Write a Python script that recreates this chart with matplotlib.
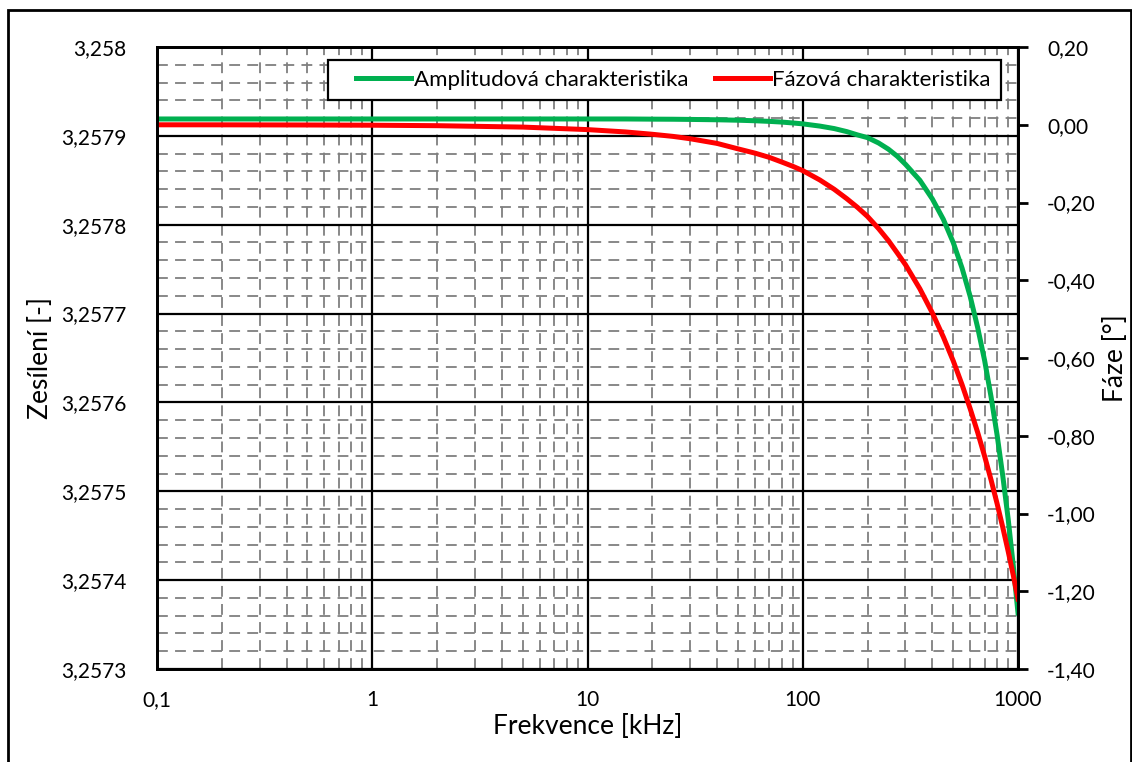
import numpy as np
import matplotlib
matplotlib.use('Agg')
from matplotlib import pyplot as plt
from matplotlib.ticker import FixedLocator, MultipleLocator, LogLocator, FuncFormatter, NullFormatter
from matplotlib.patches import Rectangle
from matplotlib.lines import Line2D
from matplotlib.legend_handler import HandlerLine2D

plt.rcParams['font.family'] = ['Lato', 'DejaVu Sans']

# frekvence [kHz]
freq = [0.1, 0.2, 0.5, 1, 2, 5, 10, 15, 20, 25, 30, 40, 50, 60, 70, 80, 90,
        100, 120, 140, 160, 180, 200, 225, 250, 275, 300, 350, 400, 450, 500,
        550, 600, 650, 700, 750, 800, 850, 900, 950, 1000]
# zesileni [-]
gain = [3.257919, 3.257919, 3.257919, 3.257919, 3.257919, 3.257919, 3.257919,
        3.257919, 3.2579188, 3.2579187, 3.2579185, 3.2579181, 3.2579176,
        3.257917, 3.2579163, 3.2579155, 3.2579145, 3.2579135, 3.257911,
        3.2579082, 3.2579048, 3.257901, 3.257898, 3.257892, 3.257885,
        3.257877, 3.257868, 3.257850, 3.257829, 3.257806, 3.257780, 3.257751,
        3.257719, 3.257684, 3.257647, 3.257606, 3.257563, 3.257517, 3.257469,
        3.257417, 3.257363]
# faze [st]
phase = [-0.0001, -0.0002, -0.0006, -0.0012, -0.0024, -0.006, -0.0125,
         -0.0185, -0.0245, -0.03, -0.036, -0.048, -0.062, -0.073, -0.084,
         -0.096, -0.107, -0.118, -0.142, -0.166, -0.19, -0.213, -0.236,
         -0.267, -0.298, -0.33, -0.36, -0.422, -0.484, -0.546, -0.607,
         -0.669, -0.731, -0.792, -0.853, -0.914, -0.975, -1.036, -1.097,
         -1.158, -1.22]

xticks = [0.1, 1, 10, 100, 1000]
xtick_labels = ['0,1', '1', '10', '100', '1000']

W, H = 1132, 762
fig = plt.figure(figsize=(W / 100, H / 100), dpi=100)
ax = fig.add_axes([157 / W, 1 - 669 / H, (1018 - 157) / W, (669 - 47) / H])
ax2 = ax.twinx()

l1, = ax.plot(freq, gain, color='#00B050', lw=3.6,
              label='Amplitudová charakteristika')
l2, = ax2.plot(freq, phase, color='#FF0000', lw=3.6,
               label='Fázová charakteristika')

ax.set_xscale('log')
ax.set_xlim(0.1, 1000)
ax.set_ylim(3.2573, 3.258)
ax2.set_ylim(-1.4, 0.2)

ax.xaxis.set_major_locator(FixedLocator(xticks))
ax.set_xticklabels(xtick_labels)
ax.xaxis.set_minor_locator(LogLocator(base=10, subs=np.arange(2, 10)))
ax.xaxis.set_minor_formatter(NullFormatter())
ax.yaxis.set_major_locator(MultipleLocator(0.0001))
ax.yaxis.set_minor_locator(MultipleLocator(0.00002))
ax.yaxis.set_major_formatter(FuncFormatter(
    lambda v, p: ('%.4f' % v).rstrip('0').replace('.', ',')))
ax2.yaxis.set_major_locator(MultipleLocator(0.2))
ax2.yaxis.set_major_formatter(FuncFormatter(
    lambda v, p: ('%.2f' % v).replace('.', ',').replace('-0,00', '0,00')))

ax.grid(which='minor', color='#7f7f7f', lw=1.3, ls=(0, (6, 4)))
ax.grid(which='major', color='black', lw=1.6, ls='-')
ax.set_axisbelow(True)

ax.tick_params(which='both', length=0, labelsize=15)
ax.tick_params(axis='y', pad=22)
ax.tick_params(axis='x', pad=15)
ax2.tick_params(axis='y', which='major', length=7, width=2, direction='out',
                labelsize=15, pad=14)
ax2.tick_params(axis='y', which='minor', length=0)

for a in (ax, ax2):
    for s in a.spines.values():
        s.set_linewidth(2)
        s.set_color('black')

ax.set_xlabel('Frekvence [kHz]', fontsize=19, labelpad=3)
ax.set_ylabel('Zesílení [-]', fontsize=19, labelpad=6)
ax2.set_ylabel('Fáze [°]', fontsize=19, labelpad=5)

leg = ax2.legend([l1, l2], [l1.get_label(), l2.get_label()], ncol=2,
                 loc='upper right', bbox_to_anchor=(1001 / W, 1 - 60 / H),
                 bbox_transform=fig.transFigure, borderaxespad=0,
                 fontsize=16, fancybox=False, framealpha=1, edgecolor='black',
                 handlelength=3.3, handletextpad=0.1, columnspacing=0.4,
                 borderpad=0.45, handler_map={Line2D: HandlerLine2D(xpad=0.8)})
leg.get_frame().set_linewidth(1.6)

fig.patches.append(Rectangle((8 / W, -0.05), (1131 - 8) / W, 1.05 - 10 / H,
                             transform=fig.transFigure, fill=False,
                             edgecolor='black', lw=2, clip_on=False))

fig.savefig('out.png', dpi=100)
